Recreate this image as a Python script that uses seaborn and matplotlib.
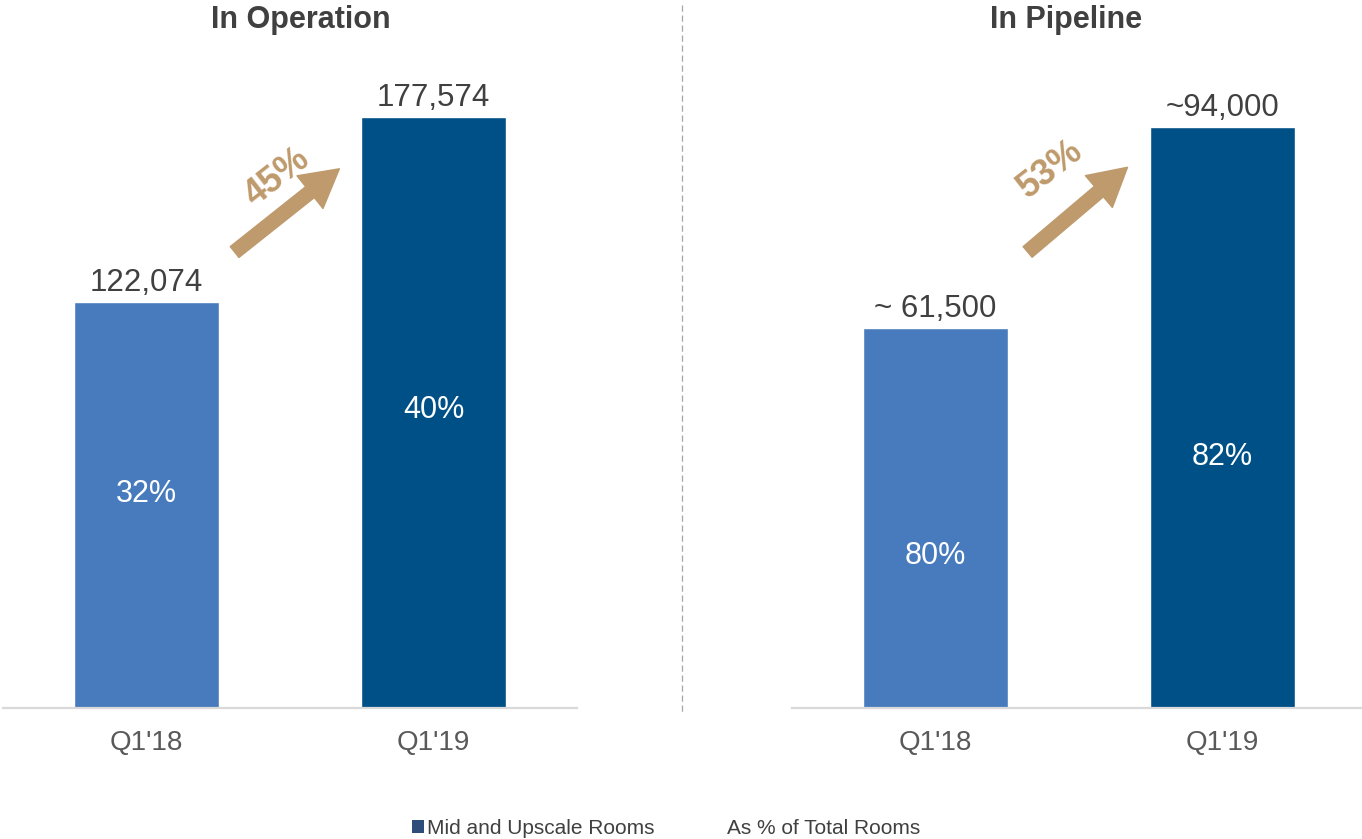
import matplotlib
matplotlib.use("Agg")
import matplotlib.pyplot as plt
import seaborn as sns
from matplotlib.lines import Line2D
from matplotlib.patches import Patch

# ---------------------------------------------------------------
# data
# ---------------------------------------------------------------
QUARTERS = ["Q1'18", "Q1'19"]

OPERATION_ROOMS = [122074, 177574]
OPERATION_LABELS = ["122,074", "177,574"]
OPERATION_SHARE = ["32%", "40%"]
OPERATION_GROWTH = "45%"

PIPELINE_ROOMS = [61500, 94000]
PIPELINE_LABELS = ["~ 61,500", "~94,000"]
PIPELINE_SHARE = ["80%", "82%"]
PIPELINE_GROWTH = "53%"

LEGEND_LABELS = ["Mid and Upscale Rooms", "As % of Total Rooms"]

# ---------------------------------------------------------------
# style
# ---------------------------------------------------------------
LIGHT_BLUE = "#477BBD"
DARK_BLUE = "#005088"
TAN = "#BE9A6C"
TEXT_DARK = "#404040"
TICK_GREY = "#595959"

sns.set_theme(style="white")
plt.rcParams["font.family"] = ["Liberation Sans", "DejaVu Sans"]

W, H = 1362, 839
fig = plt.figure(figsize=(W / 100, H / 100), dpi=100)

ax_l = fig.add_axes([3 / W, 131 / H, 574 / W, 668 / H])
ax_r = fig.add_axes([792 / W, 131 / H, 574 / W, 668 / H])


def draw_panel(ax, values, labels, shares, ymax, share_frac, growth, arrow, growth_xy):
    sns.barplot(x=QUARTERS, y=values, hue=QUARTERS, palette=[LIGHT_BLUE, DARK_BLUE],
                width=0.502, saturation=1, legend=False, ax=ax)
    ax.set_xlim(-0.5, 1.5)
    ax.set_ylim(0, ymax)
    ax.set_ylabel("")
    ax.set_yticks([])
    for side in ["left", "right", "top"]:
        ax.spines[side].set_visible(False)
    ax.spines["bottom"].set_color("#D9D9D9")
    ax.spines["bottom"].set_linewidth(1.6)
    ax.tick_params(axis="x", length=0, pad=16, labelsize=20, labelcolor=TICK_GREY)

    for i, v in enumerate(values):
        ax.annotate(labels[i], (i, v), xytext=(0, 3), textcoords="offset points",
                    ha="center", va="bottom", fontsize=22.5, color=TEXT_DARK)
        ax.text(i, v * share_frac[i], shares[i], ha="center", va="center",
                fontsize=22, color="white")

    # growth arrow + rotated percentage
    ax.annotate("", xy=arrow[1], xytext=arrow[0],
                arrowprops=dict(arrowstyle="simple,head_length=1.35,head_width=1.5,tail_width=0.5",
                                color=TAN, shrinkA=0, shrinkB=0),
                fontsize=20)
    ax.text(growth_xy[0], growth_xy[1], growth, rotation=38, rotation_mode="anchor",
            ha="center", va="center", fontsize=26, fontweight="bold", color=TAN)


draw_panel(ax_l, OPERATION_ROOMS, OPERATION_LABELS, OPERATION_SHARE, 200700,
           [0.527, 0.504], OPERATION_GROWTH,
           ((0.307, 137000), (0.672, 162000)), (0.455, 159500))
draw_panel(ax_r, PIPELINE_ROOMS, PIPELINE_LABELS, PIPELINE_SHARE, 108100,
           [0.40, 0.432], PIPELINE_GROWTH,
           ((0.321, 73800), (0.669, 87500)), (0.402, 87200))

# titles
fig.text(301 / W, 1 - 5 / H, "In Operation", ha="center", va="top",
         fontsize=22, fontweight="bold", color=TEXT_DARK)
fig.text(1066 / W, 1 - 5 / H, "In Pipeline", ha="center", va="top",
         fontsize=22, fontweight="bold", color=TEXT_DARK)

# dashed separator
fig.add_artist(Line2D([682 / W, 682 / W], [1 - 5 / H, 1 - 712 / H],
                      color="#A6A6A6", lw=0.9, linestyle=(0, (5, 3))))

# legend
handles = [Patch(facecolor="#2E4D7B", edgecolor="none"),
           Patch(facecolor="none", edgecolor="none")]
fig.legend(handles, LEGEND_LABELS, loc="center", bbox_to_anchor=(666 / W, 11 / H),
           ncol=2, frameon=False, fontsize=15, handlelength=0.6, handleheight=0.6,
           handletextpad=0.15, columnspacing=2.7, labelcolor=TEXT_DARK)

fig.savefig("out.png", dpi=100)
